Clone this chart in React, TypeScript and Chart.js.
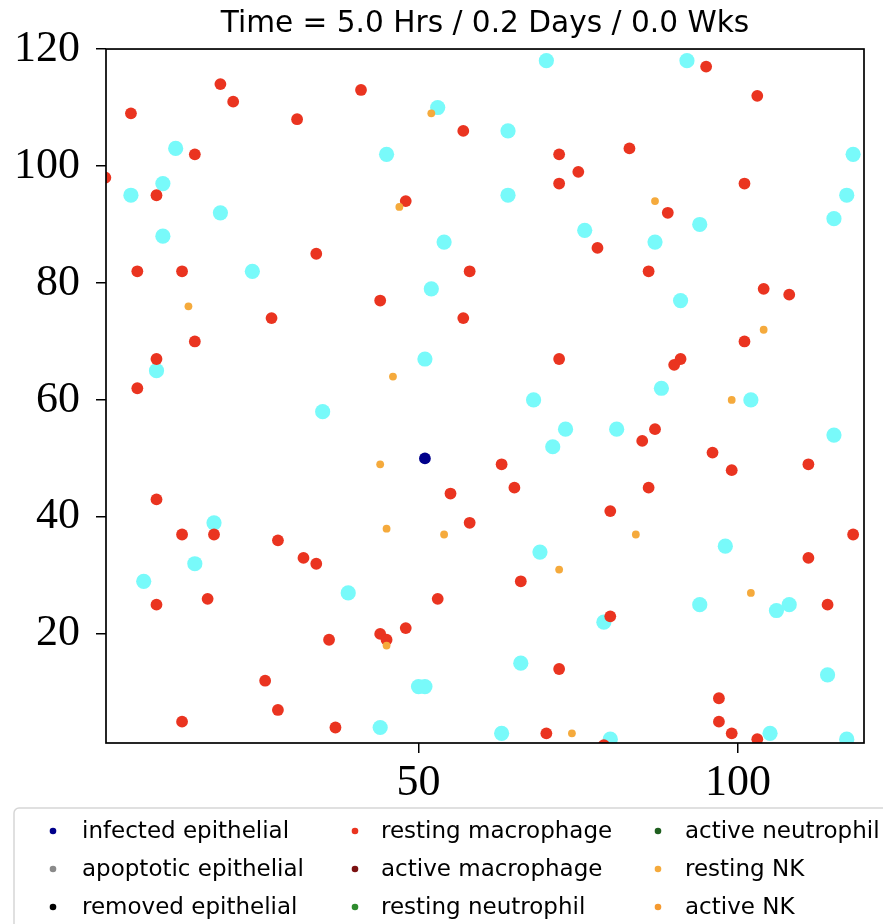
import React, { useEffect, useRef } from "react";
import { Chart, registerables } from "chart.js";

Chart.register(...registerables);

const TITLE = "Time = 5.0 Hrs / 0.2 Days / 0.0 Wks";
const X_TICKS = [50, 100];
const Y_TICKS = [20, 40, 60, 80, 100, 120];
const X_RANGE = [1.1, 119.7];
const Y_RANGE = [1.35, 120];

// healthy epithelial (cyan, not in legend)
const healthyX = [12, 10, 5, 19, 10, 24, 9, 70, 53, 64, 45, 64, 54, 76, 52, 51, 68, 92, 118, 117, 115, 94, 87, 91, 88, 102, 35, 18, 15, 7, 39, 73, 71, 69, 66, 50, 51, 44, 63, 79, 81, 115, 98, 94, 106, 108, 114, 105, 117, 80];
const healthyY = [103, 97, 95, 92, 88, 82, 65, 118, 110, 106, 102, 95, 87, 89, 79, 67, 60, 118, 102, 95, 91, 90, 87, 77, 62, 60, 58, 39, 32, 29, 27, 55, 52, 34, 15, 11, 11, 4, 3, 22, 55, 54, 35, 25, 24, 25, 13, 3, 2, 2];

// resting macrophage (red)
const restMacX = [19, 21, 5, 31, 15, 1, 9, 34, 6, 13, 27, 15, 9, 6, 41, 57, 72, 75, 72, 48, 78, 58, 44, 57, 72, 95, 103, 83, 101, 89, 86, 104, 108, 101, 91, 90, 9, 13, 18, 28, 32, 34, 9, 17, 36, 26, 28, 13, 37, 63, 65, 55, 58, 66, 53, 48, 44, 45, 72, 70, 79, 80, 80, 87, 85, 96, 99, 111, 86, 118, 111, 114, 97, 97, 99, 103];
const restMacY = [114, 111, 109, 108, 102, 98, 95, 85, 82, 82, 74, 70, 67, 62, 113, 106, 102, 99, 97, 94, 86, 82, 77, 74, 67, 117, 112, 103, 97, 92, 82, 79, 78, 70, 67, 66, 43, 37, 37, 36, 33, 32, 25, 26, 19, 12, 7, 5, 4, 49, 45, 44, 39, 29, 26, 21, 20, 19, 14, 3, 1, 41, 23, 55, 53, 51, 48, 49, 45, 37, 33, 25, 9, 5, 3, 2];

// resting NK (orange)
const restNKX = [14, 52, 47, 46, 87, 104, 99, 44, 45, 54, 72, 45, 74, 84, 102];
const restNKY = [76, 109, 93, 64, 94, 72, 60, 49, 38, 37, 31, 18, 3, 37, 27];

// infected epithelial (navy)
const infectedX = [51];
const infectedY = [50];

const LEGEND_LABELS = [
  "infected epithelial", "apoptotic epithelial", "removed epithelial",
  "resting macrophage", "active macrophage", "resting neutrophil",
  "active neutrophil", "resting NK", "active NK",
];
const LEGEND_COLORS = [
  "#00008B", "#8a8a8a", "#000000",
  "#EA3420", "#7B1111", "#2E8B2E",
  "#1F5F1F", "#F5AA3C", "#F59A30",
];

const COLOR_HEALTHY = "#78FAFA";

function toPoints(xs: number[], ys: number[]) {
  return xs.map((x, i) => ({ x, y: ys[i] }));
}

const framePlugin = {
  id: "frameAndLegend",
  afterDatasetsDraw(chart: any) {
    const { ctx, chartArea } = chart;
    ctx.save();
    ctx.strokeStyle = "#000";
    ctx.lineWidth = 1.7;
    ctx.strokeRect(chartArea.left, chartArea.top, chartArea.right - chartArea.left, chartArea.bottom - chartArea.top);
    ctx.restore();
  },
  afterDraw(chart: any) {
    const { ctx } = chart;
    ctx.save();
    ctx.fillStyle = "#fff";
    ctx.strokeStyle = "#d6d6d6";
    ctx.lineWidth = 1.5;
    ctx.beginPath();
    (ctx as any).roundRect(14, 808, 900, 140, 5);
    ctx.fill();
    ctx.stroke();
    const markerX = [53, 355, 658];
    const textX = [82, 381, 685];
    const rowY = [831, 869, 907];
    ctx.font = "23px 'DejaVu Sans'";
    ctx.textBaseline = "middle";
    ctx.textAlign = "left";
    LEGEND_LABELS.forEach((label, i) => {
      const col = Math.floor(i / 3);
      const row = i % 3;
      ctx.fillStyle = LEGEND_COLORS[i];
      ctx.beginPath();
      ctx.arc(markerX[col], rowY[row], 3.3, 0, Math.PI * 2);
      ctx.fill();
      ctx.fillStyle = "#000";
      ctx.fillText(label, textX[col], rowY[row] + 1);
    });
    ctx.restore();
  },
};

function pointDataset(label: string, xs: number[], ys: number[], color: string, radius: number, order: number) {
  return {
    label,
    data: toPoints(xs, ys),
    pointStyle: "circle",
    pointRadius: radius,
    pointBackgroundColor: color,
    backgroundColor: color,
    pointBorderWidth: 0,
    borderWidth: 0,
    borderColor: color,
    pointHoverRadius: radius,
    order,
    clip: 0,
  } as any;
}

export default function App() {
  const ref = useRef<HTMLCanvasElement | null>(null);

  useEffect(() => {
    document.body.style.margin = "0";
    if (!ref.current) return;

    const chart = new Chart(ref.current, {
      type: "scatter",
      data: {
        datasets: [
          pointDataset("healthy epithelial", healthyX, healthyY, COLOR_HEALTHY, 7.6, 4),
          pointDataset(LEGEND_LABELS[3], restMacX, restMacY, LEGEND_COLORS[3], 5.9, 3),
          pointDataset(LEGEND_LABELS[7], restNKX, restNKY, LEGEND_COLORS[7], 3.9, 2),
          pointDataset(LEGEND_LABELS[0], infectedX, infectedY, LEGEND_COLORS[0], 5.9, 1),
        ],
      },
      options: {
        animation: false,
        responsive: false,
        devicePixelRatio: 1,
        layout: { padding: { left: 0, right: 19, top: 0, bottom: 114 } },
        plugins: {
          legend: { display: false },
          tooltip: { enabled: false },
          title: {
            display: true,
            text: TITLE,
            fullSize: false,
            color: "#000",
            font: { family: "'DejaVu Sans'", size: 29.6, weight: "normal" as any, lineHeight: 1.2 },
            padding: { top: 7, bottom: 6.5 },
          },
        },
        scales: {
          x: {
            type: "linear",
            min: X_RANGE[0],
            max: X_RANGE[1],
            afterBuildTicks: (s: any) => { s.ticks = X_TICKS.map((v) => ({ value: v })); },
            afterFit: (s: any) => { s.height = 67; },
            ticks: {
              color: "#000",
              font: { family: "'Liberation Serif'", size: 44 },
              padding: 4,
              maxRotation: 0,
              autoSkip: false,
            },
            grid: { drawOnChartArea: false, drawTicks: true, tickLength: 10, color: "#000", lineWidth: 1.5 },
            border: { display: false },
          },
          y: {
            type: "linear",
            min: Y_RANGE[0],
            max: Y_RANGE[1],
            afterBuildTicks: (s: any) => { s.ticks = Y_TICKS.map((v) => ({ value: v })); },
            afterFit: (s: any) => { s.width = 106; },
            ticks: {
              color: "#000",
              font: { family: "'Liberation Serif'", size: 44 },
              padding: 16,
              autoSkip: false,
            },
            grid: { drawOnChartArea: false, drawTicks: true, tickLength: 10, color: "#000", lineWidth: 1.5 },
            border: { display: false },
          },
        },
      },
      plugins: [framePlugin],
    });
    return () => chart.destroy();
  }, []);

  return (
    <div style={{ width: 883, height: 924, position: "relative" }}>
      <canvas ref={ref} width={883} height={924} style={{ width: 883, height: 924, display: "block" }} />
    </div>
  );
}
